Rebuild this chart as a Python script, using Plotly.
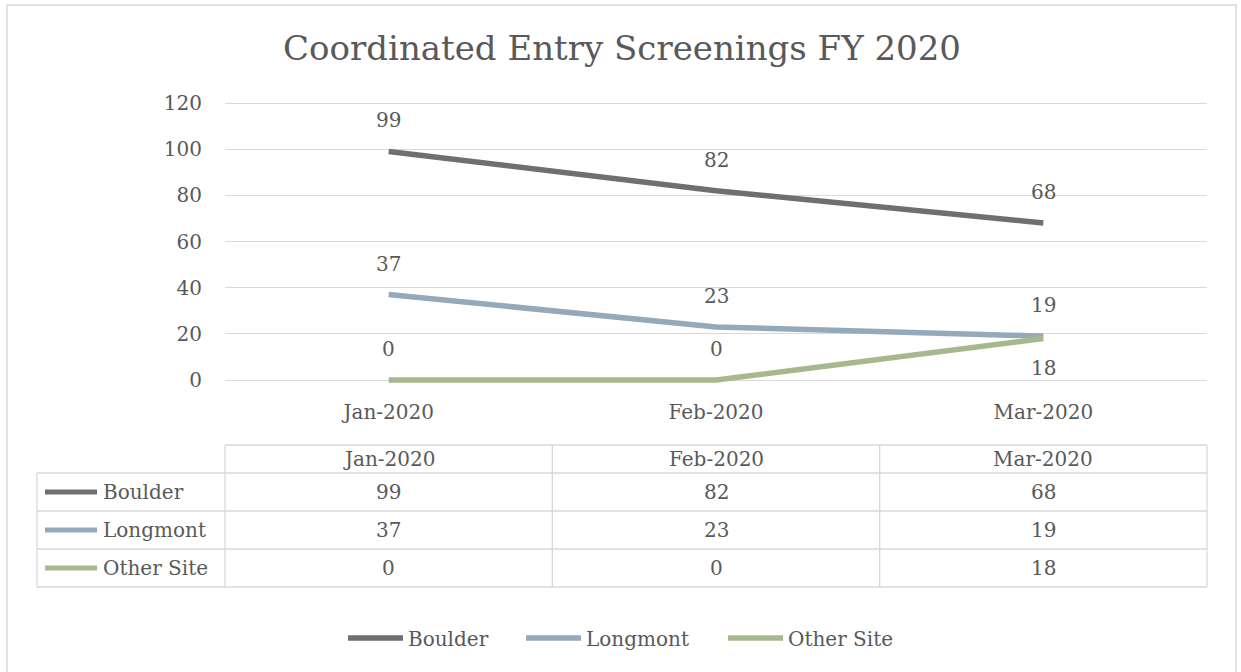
import plotly.graph_objects as go

# ---- data ----
months = ["Jan-2020", "Feb-2020", "Mar-2020"]
series_names = ["Boulder", "Longmont", "Other Site"]
boulder = [99, 82, 68]
longmont = [37, 23, 19]
other_site = [0, 0, 18]
y_ticks = [0, 20, 40, 60, 80, 100, 120]
title_text = "Coordinated Entry Screenings FY 2020"
labels_below = {("Other Site", "Mar-2020")}

series_values = [boulder, longmont, other_site]

# ---- style ----
colors = ["#6E6E73", "#94A9BA", "#A6B88D"]
FONT = "DejaVu Serif"
TXT = "#595959"
GRID = "#D9D9D9"
FS = 20

W, H = 1241, 672
L, R, T, B = 225, 1207, 100, 383  # plot area in pixels (range padded slightly)
Y_RANGE = [-1.3, 121.3]


def px_x(p):
    return (p - L) / (R - L)


def px_y(p):
    return (B - p) / (B - T)


fig = go.Figure()
legend_ids = ["legend", "legend2", "legend3"]
for name, vals, col, lg in zip(series_names, series_values, colors, legend_ids):
    fig.add_trace(go.Scatter(
        x=months, y=vals, name=name, mode="lines",
        line=dict(color=col, width=5.5),
        legend=lg, hoverinfo="skip",
    ))

annotations = []
# data labels
for name, vals in zip(series_names, series_values):
    for m, v in zip(months, vals):
        below = (name, m) in labels_below
        annotations.append(dict(
            x=m, y=v, xref="x", yref="y", text=str(v), showarrow=False,
            yshift=-30 if below else 31,
            font=dict(family=FONT, size=FS, color=TXT),
        ))

# data table
hdr_top, hdr_bot = 445, 473
row_lines = [473, 511, 549, 587]
left_edge = 37
shapes = []
line_style = dict(color=GRID, width=1.3)
# horizontal
shapes.append(dict(type="line", xref="x domain", yref="paper",
                   x0=0, x1=1, y0=px_y(hdr_top), y1=px_y(hdr_top), line=line_style))
for yy in row_lines:
    shapes.append(dict(type="line", xref="x domain", yref="paper",
                       x0=px_x(left_edge), x1=1, y0=px_y(yy), y1=px_y(yy), line=line_style))
# vertical
shapes.append(dict(type="line", xref="x domain", yref="paper",
                   x0=px_x(left_edge), x1=px_x(left_edge), y0=px_y(hdr_bot), y1=px_y(row_lines[-1]),
                   line=line_style))
for xd in [0, 1]:
    shapes.append(dict(type="line", xref="x domain", yref="paper",
                       x0=xd, x1=xd, y0=px_y(hdr_top), y1=px_y(row_lines[-1]), line=line_style))
for i in range(len(months) - 1):
    shapes.append(dict(type="line", xref="x", yref="paper",
                       x0=i + 0.5, x1=i + 0.5, y0=px_y(hdr_top), y1=px_y(row_lines[-1]),
                       line=line_style))

# header text
for m in months:
    annotations.append(dict(x=m, y=px_y((hdr_top + hdr_bot) / 2), xref="x", yref="paper",
                            text=m, showarrow=False, yanchor="middle",
                            font=dict(family=FONT, size=FS, color=TXT)))
# rows
for r, (name, vals, col) in enumerate(zip(series_names, series_values, colors)):
    yc = (row_lines[r] + row_lines[r + 1]) / 2
    shapes.append(dict(type="line", xref="paper", yref="paper",
                       x0=px_x(45), x1=px_x(97), y0=px_y(yc), y1=px_y(yc),
                       line=dict(color=col, width=5)))
    annotations.append(dict(x=px_x(101), y=px_y(yc), xref="paper", yref="paper",
                            text=name, showarrow=False, xanchor="left", yanchor="middle",
                            font=dict(family=FONT, size=FS, color=TXT)))
    for m, v in zip(months, vals):
        annotations.append(dict(x=m, y=px_y(yc), xref="x", yref="paper",
                                text=str(v), showarrow=False, yanchor="middle",
                                font=dict(family=FONT, size=FS, color=TXT)))

# outer chart border
shapes.append(dict(type="rect", xref="paper", yref="paper",
                   x0=px_x(7), x1=px_x(1236), y0=px_y(5), y1=px_y(700),
                   line=dict(color=GRID, width=1.5), fillcolor="rgba(0,0,0,0)"))

legend_common = dict(orientation="h", yanchor="middle", xanchor="left",
                     font=dict(family=FONT, size=FS, color=TXT), itemwidth=55,
                     bgcolor="rgba(0,0,0,0)", borderwidth=0, y=px_y(638))
legend_x = [343, 521, 723]

fig.update_layout(
    width=W, height=H,
    margin=dict(l=L, r=W - R, t=T, b=H - B, pad=0),
    paper_bgcolor="white", plot_bgcolor="white",
    title=dict(text=title_text, x=622 / W, xanchor="center", y=1 - 48 / H, yanchor="middle",
               yref="container", font=dict(family=FONT, size=34, color=TXT)),
    xaxis=dict(type="category", categoryorder="array", categoryarray=months,
               range=[-0.5, len(months) - 0.5], showgrid=False, showline=False,
               zeroline=False, ticks="", ticklabelstandoff=15,
               tickfont=dict(family=FONT, size=FS, color=TXT)),
    yaxis=dict(range=Y_RANGE, tickvals=y_ticks, showgrid=True, gridcolor=GRID,
               gridwidth=1.3, zeroline=False, showline=False, ticks="",
               ticklabelstandoff=22, tickfont=dict(family=FONT, size=FS, color=TXT)),
    showlegend=True,
    legend=dict(legend_common, x=px_x(legend_x[0])),
    legend2=dict(legend_common, x=px_x(legend_x[1])),
    legend3=dict(legend_common, x=px_x(legend_x[2])),
    annotations=annotations,
    shapes=shapes,
)

fig.write_html("out.html", config={"displayModeBar": False},
               post_script="document.body.style.margin='0';")
